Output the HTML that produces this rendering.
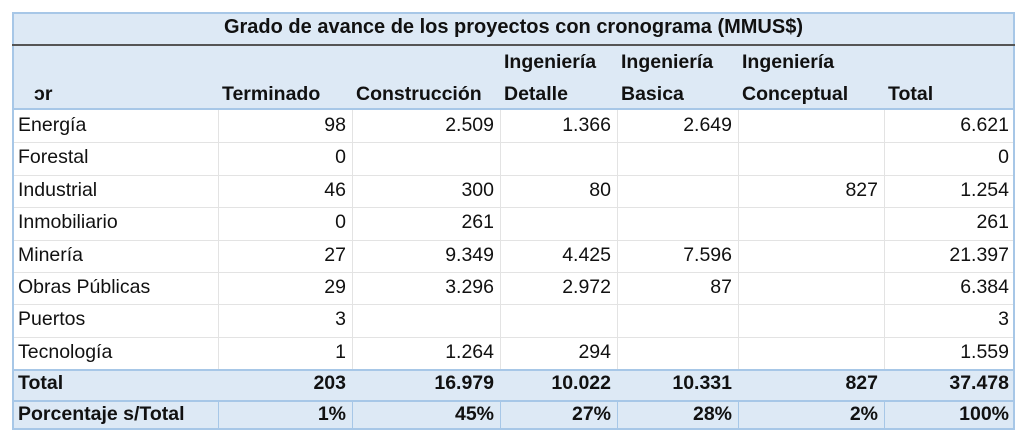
<!DOCTYPE html>
<html><head><meta charset="utf-8"><style>
body{margin:0;width:1024px;height:447px;background:#fff;position:relative;overflow:hidden;font-family:"Liberation Sans",sans-serif;}
.c{position:absolute;box-sizing:border-box;font-size:19.5px;color:#111;white-space:nowrap;}
.b{font-weight:bold;}
.r{text-align:right;padding-right:6px;}
.l{padding-left:4px;}
.hl{position:absolute;height:1px;background:#e3e3e3;}
.vl{position:absolute;width:1px;background:#e3e3e3;}
</style></head><body>
<div style="position:absolute;left:12px;top:12px;width:1003px;height:418px;border:2px solid #a7c7e7;box-sizing:border-box;"></div>
<div style="position:absolute;left:14px;top:14px;width:999px;height:30px;background:#dde9f5;"></div>
<div class="c b" style="left:14px;top:16px;width:999px;text-align:center;font-size:20px;">Grado de avance de los proyectos con cronograma (MMUS$)</div>
<div style="position:absolute;left:12px;top:44px;width:1003px;height:2px;background:#555;"></div>
<div style="position:absolute;left:14px;top:46px;width:999px;height:64px;background:#dde9f5;border-bottom:2px solid #a7c7e7;box-sizing:border-box;"></div>
<div style="position:absolute;left:14px;top:369px;width:999px;height:59px;background:#dde9f5;border-top:2px solid #a7c7e7;box-sizing:border-box;"></div>
<div style="position:absolute;left:14px;top:400px;width:999px;height:2px;background:#a7c7e7;"></div>
<div id="grid"></div>
<script>
const cols=[12,218,352,500,617,738,884,1015];
const headers=[["","ɔr"],["","Terminado"],["","Construcción"],["Ingeniería","Detalle"],["Ingeniería","Basica"],["Ingeniería","Conceptual"],["","Total"]];
const rows=[
["Energía","98","2.509","1.366","2.649","","6.621"],
["Forestal","0","","","","","0"],
["Industrial","46","300","80","","827","1.254"],
["Inmobiliario","0","261","","","","261"],
["Minería","27","9.349","4.425","7.596","","21.397"],
["Obras Públicas","29","3.296","2.972","87","","6.384"],
["Puertos","3","","","","","3"],
["Tecnología","1","1.264","294","","","1.559"]];
const totals=[["Total","203","16.979","10.022","10.331","827","37.478"],["Porcentaje s/Total","1%","45%","27%","28%","2%","100%"]];
const body=document.body;
function cell(txt,x,w,y,cls,name){const d=document.createElement('div');d.className='c '+cls;d.style.left=x+'px';d.style.width=w+'px';d.style.top=y+'px';d.textContent=txt;


body.appendChild(d);}
headers.forEach((h,i)=>{const x=cols[i]+(i?4:2),w=cols[i+1]-cols[i];
if(h[0])cell(h[0],x,w,51,'b','header-line1');
cell(h[1],x+(i==0?20:0),w,83,'b','header-label');});
const rh=32.4;
rows.forEach((r,j)=>{const y=110+j*rh;
r.forEach((v,i)=>{cell(v,cols[i]+(i?0:2),cols[i+1]-cols[i],y+4,i?'r':'l','data-cell');});
if(j>0){const l=document.createElement('div');l.className='hl';l.style.left='14px';l.style.width='999px';l.style.top=y+'px';


body.appendChild(l);}});
for(let i=1;i<cols.length-1;i++){const v=document.createElement('div');v.className='vl';v.style.left=cols[i]+'px';v.style.top='110px';v.style.height='259px';


body.appendChild(v);
const v2=document.createElement('div');v2.className='vl';v2.style.background='#a7c7e7';v2.style.left=cols[i]+'px';v2.style.top='401px';v2.style.height='28px';


body.appendChild(v2);}
totals.forEach((r,j)=>{const y=372+j*31;
r.forEach((v,i)=>{cell(v,cols[i]+(i?0:2),cols[i+1]-cols[i],y,'b '+(i?'r':'l'),'total-cell');});});
</script>
</body></html>
